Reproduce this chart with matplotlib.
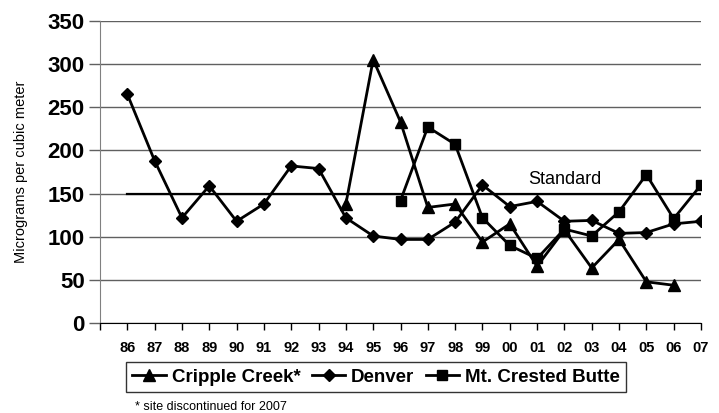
import matplotlib.pyplot as plt
import numpy as np

plt.rcParams['font.family'] = ['Liberation Sans', 'DejaVu Sans']

years = ['86', '87', '88', '89', '90', '91', '92', '93', '94', '95', '96',
         '97', '98', '99', '00', '01', '02', '03', '04', '05', '06', '07']

# None = no measurement
cripple_creek = [None, None, None, None, None, None, None, None, 138, 305, 233,
                 134, 138, 94, 115, 66, 108, 64, 97, 48, 44, None]
denver = [265, 188, 122, 159, 118, 138, 182, 179, 122, 101, 97,
          97, 117, 160, 135, 141, 118, 119, 104, 105, 115, 118]
crested_butte = [None, None, None, None, None, None, None, None, None, None, 142,
                 227, 207, 122, 90, 75, 109, 101, 129, 172, 121, 160]
standard = 150


def arr(v):
    return np.array([np.nan if x is None else x for x in v], dtype=float)


x = np.arange(len(years))

fig = plt.figure(figsize=(7.19, 4.13), dpi=100)
ax = fig.add_axes([100 / 719, (413 - 323.3) / 413, 601 / 719, 302.6 / 413])

ax.set_ylim(0, 350)
ax.set_xlim(-1, len(years) - 1)
ax.set_yticks(range(0, 351, 50))
ax.yaxis.grid(True, color='#606060', lw=1)
ax.set_axisbelow(True)

ax.plot([x[0], x[-1] + 0.05], [standard, standard], color='black', lw=1.6, zorder=2)
ax.text(16, 166, 'Standard', ha='center', va='center', fontsize=13)

line_kw = dict(color='black', lw=2, markerfacecolor='black', markeredgecolor='black', zorder=3)
ax.plot(x, arr(cripple_creek), marker='^', ms=8.5, label='Cripple Creek*', **line_kw)
ax.plot(x, arr(denver), marker='D', ms=6, label='Denver', **line_kw)
ax.plot(x, arr(crested_butte), marker='s', ms=7.5, label='Mt. Crested Butte', **line_kw)

ax.set_xticks(np.arange(-1, len(years)))
ax.set_xticklabels([''] + years)
ax.tick_params(axis='x', direction='out', length=5, width=1, pad=8, colors='black',
               labelsize=10.5)
ax.tick_params(axis='y', direction='out', length=8, width=1, color='#606060', pad=3,
               labelsize=16)
for t in ax.get_xticklabels() + ax.get_yticklabels():
    t.set_fontweight('bold')

ax.spines['top'].set_visible(False)
ax.spines['right'].set_visible(False)
ax.spines['left'].set_color('#808080')
ax.spines['bottom'].set_color('black')

ax.set_ylabel('Micrograms per cubic meter', fontsize=10.5)
ax.yaxis.set_label_coords(-72 / 601, 0.5)

leg = fig.legend(loc='center', bbox_to_anchor=(376 / 719, (413 - 377) / 413), ncol=3,
                 frameon=True, fancybox=False, handlelength=1.8, handletextpad=0.3,
                 columnspacing=0.6, borderpad=0.35, prop={'size': 13.5, 'weight': 'bold'})
leg.get_frame().set_edgecolor('black')
leg.get_frame().set_linewidth(1)

fig.text(135 / 719, (413 - 407) / 413, '* site discontinued for 2007', fontsize=9,
         ha='left', va='center')

fig.savefig('out.png', dpi=100)
